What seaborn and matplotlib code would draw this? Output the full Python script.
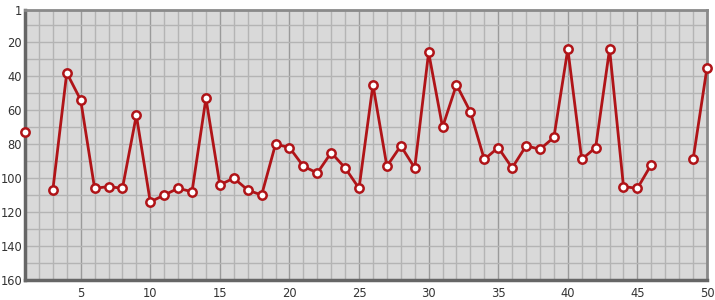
import numpy as np
import pandas as pd
import matplotlib
matplotlib.use("Agg")
import matplotlib.pyplot as plt
import seaborn as sns
from matplotlib.ticker import MultipleLocator, FixedLocator

rounds = list(range(1, 51))
positions = [73, np.nan, 107, 38, 54, 106, 105, 106, 63, 114,
             110, 106, 108, 53, 104, 100, 107, 110, 80, 82,
             93, 97, 85, 94, 106, 45, 93, 81, 94, 26,
             70, 45, 61, 89, 82, 94, 81, 83, 76, 24,
             89, 82, 24, 105, 106, 92, np.nan, np.nan, 89, 35]
y_ticks = [1, 20, 40, 60, 80, 100, 120, 140, 160]
x_ticks = [5, 10, 15, 20, 25, 30, 35, 40, 45, 50]

df = pd.DataFrame({"round": rounds, "pos": positions})
# split into contiguous segments so gaps stay unconnected
df["segment"] = df["pos"].isna().cumsum()
df = df.dropna(subset=["pos"])

sns.set_theme(style="white")
plt.rcParams['font.family'] = ['DejaVu Sans']

fig = plt.figure(figsize=(7.15, 3.0), dpi=100)
ax = fig.add_axes([25/715, 20/300, 682/715, 270/300])
ax.set_facecolor("#d9d9d9")

ax.set_xlim(1, 50)
ax.set_ylim(160, 1)

# grid
ax.xaxis.set_minor_locator(MultipleLocator(1))
ax.yaxis.set_minor_locator(FixedLocator(list(range(10, 160, 10))))
ax.grid(which="minor", color="#b4b4b4", linewidth=1.0)
ax.grid(which="major", axis="x", color="#9a9a9a", linewidth=1.0)
ax.grid(which="major", axis="y", color="#b4b4b4", linewidth=1.0)
ax.set_axisbelow(True)

sns.lineplot(data=df, x="round", y="pos", units="segment", estimator=None,
             ax=ax, color="#b01418", linewidth=2.0, marker="o", markersize=6,
             markerfacecolor="white", markeredgecolor="#b01418",
             markeredgewidth=1.8, clip_on=False, zorder=5, legend=False)

ax.set_xticks(x_ticks)
ax.set_yticks(y_ticks)
ax.tick_params(axis="both", which="both", length=0, labelsize=8.3,
               labelcolor="#333333")
ax.tick_params(axis="y", pad=2)
ax.tick_params(axis="x", pad=5)
ax.set_xlabel("")
ax.set_ylabel("")

for side in ["top", "right"]:
    ax.spines[side].set_color("#8a8a8a")
    ax.spines[side].set_linewidth(2)
for side in ["left", "bottom"]:
    ax.spines[side].set_color("#666666")
    ax.spines[side].set_linewidth(2.5)

fig.savefig("out.png", dpi=100)
